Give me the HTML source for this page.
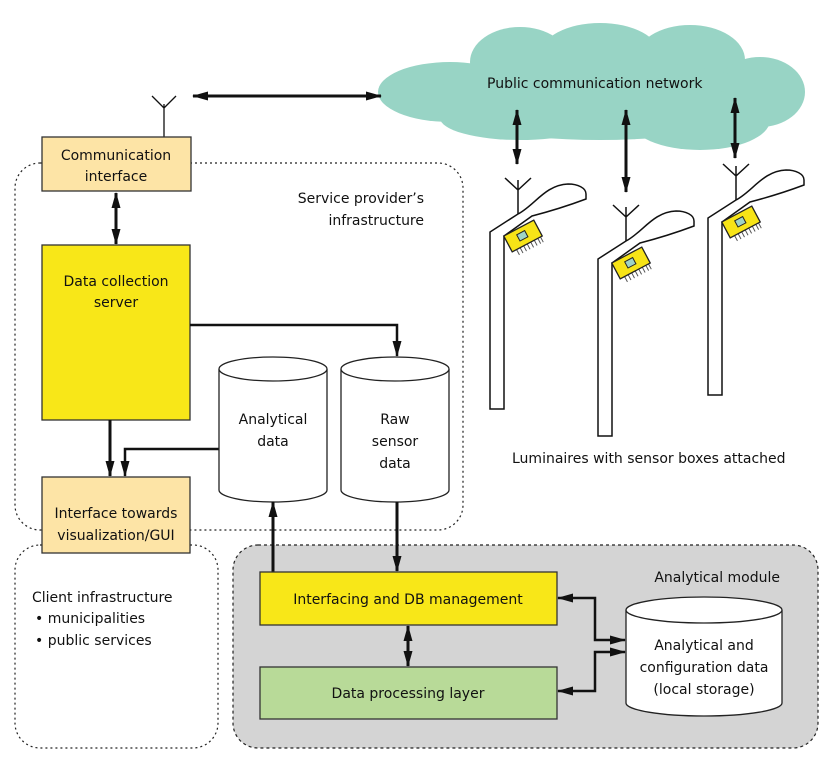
<!DOCTYPE html>
<html><head><style>
body{margin:0;background:#fff}
svg{display:block}
text{font-family:"DejaVu Sans","Liberation Sans",sans-serif;font-size:14px;fill:#111}
</style></head><body>
<svg width="830" height="763" viewBox="0 0 830 763" xmlns="http://www.w3.org/2000/svg">
<defs>
<marker id="b" viewBox="0 0 16 10" refX="15" refY="5" markerWidth="16" markerHeight="10" orient="auto-start-reverse" markerUnits="userSpaceOnUse"><path d="M0,0.5 L16,5 L0,9.5 Z" fill="#111"/></marker>
<g id="lum">
<path d="M490,409 V232 L518,214 C535,205 545,185 568,184 C578,184 586,188 586,194 V199 C570,205 555,210 532,216 L504,236 V409 Z" fill="#fff" stroke="#111" stroke-width="1.5"/>
<path d="M518,214 V180 M518,190 L505,178 M518,190 L531,178" stroke="#111" stroke-width="1.5" fill="none"/>
<g transform="translate(523,236) rotate(-28)">
<path d="M-12,9 v6 M-8,9 v6 M-4,9 v6 M0,9 v6 M4,9 v6 M8,9 v6 M12,9 v6 M15,9 v6" stroke="#555" stroke-width="1"/>
<rect x="-17" y="-9" width="34" height="18" fill="#f7e417" stroke="#222" stroke-width="1.3"/>
<rect x="-5" y="-4" width="9" height="7" fill="#9fd4c6" stroke="#222" stroke-width="1"/>
</g>
</g>
</defs>

<!-- cloud -->
<g fill="#98d4c5">
<ellipse cx="450" cy="92" rx="72" ry="30"/>
<ellipse cx="520" cy="62" rx="50" ry="35"/>
<ellipse cx="600" cy="55" rx="60" ry="32"/>
<ellipse cx="690" cy="60" rx="55" ry="35"/>
<ellipse cx="760" cy="92" rx="45" ry="35"/>
<ellipse cx="600" cy="100" rx="170" ry="40"/>
<ellipse cx="700" cy="120" rx="70" ry="30"/>
<ellipse cx="520" cy="118" rx="80" ry="22"/>
</g>
<text x="487" y="88">Public communication network</text>

<!-- dotted regions -->
<rect x="15" y="163" width="448" height="367" rx="25" fill="none" stroke="#222" stroke-width="1.2" stroke-dasharray="2,3"/>
<rect x="15" y="545" width="203" height="203" rx="25" fill="#fff" stroke="#222" stroke-width="1.2" stroke-dasharray="2,3"/>
<rect x="233" y="545" width="585" height="203" rx="25" fill="#d4d4d4" stroke="#222" stroke-width="1.2" stroke-dasharray="3,3"/>

<!-- antenna + comm -->
<path d="M164,137 V104 M164,108 L152,96 M164,108 L176,96" stroke="#111" stroke-width="1.3" fill="none"/>
<line x1="193" y1="96" x2="381" y2="96" stroke="#111" stroke-width="3" marker-start="url(#b)" marker-end="url(#b)"/>
<rect x="42" y="137" width="149" height="54" fill="#fde4a6" stroke="#333" stroke-width="1.3"/>
<text x="116" y="160" text-anchor="middle">Communication</text>
<text x="116" y="181" text-anchor="middle">interface</text>
<text x="424" y="203" text-anchor="end">Service provider’s</text>
<text x="424" y="225" text-anchor="end">infrastructure</text>

<line x1="116" y1="193" x2="116" y2="244" stroke="#111" stroke-width="3" marker-start="url(#b)" marker-end="url(#b)"/>

<rect x="42" y="245" width="148" height="175" fill="#f8e718" stroke="#333" stroke-width="1.3"/>
<text x="116" y="286" text-anchor="middle">Data collection</text>
<text x="116" y="307" text-anchor="middle">server</text>

<path d="M190,325 H397 V356" stroke="#111" stroke-width="2.5" fill="none" marker-end="url(#b)"/>
<line x1="110" y1="420" x2="110" y2="476" stroke="#111" stroke-width="3" marker-end="url(#b)"/>
<path d="M219,449 H125 V476" stroke="#111" stroke-width="2.5" fill="none" marker-end="url(#b)"/>

<!-- cylinders -->
<g stroke="#222" stroke-width="1.3" fill="#fff">
<path d="M219,369 V490 A54,12 0 0 0 327,490 V369"/>
<ellipse cx="273" cy="369" rx="54" ry="12"/>
<path d="M341,369 V490 A54,12 0 0 0 449,490 V369"/>
<ellipse cx="395" cy="369" rx="54" ry="12"/>
<path d="M626,610 V703 A78,13 0 0 0 782,703 V610"/>
<ellipse cx="704" cy="610" rx="78" ry="13"/>
</g>
<text x="273" y="424" text-anchor="middle">Analytical</text>
<text x="273" y="446" text-anchor="middle">data</text>
<text x="395" y="424" text-anchor="middle">Raw</text>
<text x="395" y="446" text-anchor="middle">sensor</text>
<text x="395" y="468" text-anchor="middle">data</text>

<rect x="42" y="477" width="148" height="76" fill="#fde4a6" stroke="#333" stroke-width="1.3"/>
<text x="116" y="518" text-anchor="middle">Interface towards</text>
<text x="116" y="540" text-anchor="middle">visualization/GUI</text>

<text x="32" y="602">Client infrastructure</text>
<text x="35" y="623">• municipalities</text>
<text x="35" y="645">• public services</text>
<text x="780" y="582" text-anchor="end">Analytical module</text>

<line x1="273" y1="572" x2="273" y2="502" stroke="#111" stroke-width="3" marker-end="url(#b)"/>
<line x1="397" y1="502" x2="397" y2="571" stroke="#111" stroke-width="3" marker-end="url(#b)"/>

<rect x="260" y="572" width="297" height="53" fill="#f8e718" stroke="#333" stroke-width="1.3"/>
<text x="408" y="604" text-anchor="middle">Interfacing and DB management</text>
<line x1="408" y1="626" x2="408" y2="666" stroke="#111" stroke-width="3" marker-start="url(#b)" marker-end="url(#b)"/>
<rect x="260" y="667" width="297" height="52" fill="#b8da98" stroke="#333" stroke-width="1.3"/>
<text x="408" y="698" text-anchor="middle">Data processing layer</text>

<path d="M558,598 H595 V640 H625" stroke="#111" stroke-width="2.5" fill="none" marker-start="url(#b)" marker-end="url(#b)"/>
<path d="M558,691 H595 V652 H625" stroke="#111" stroke-width="2.5" fill="none" marker-start="url(#b)" marker-end="url(#b)"/>
<text x="704" y="650" text-anchor="middle">Analytical and</text>
<text x="704" y="672" text-anchor="middle">configuration data</text>
<text x="704" y="694" text-anchor="middle">(local storage)</text>

<!-- luminaires -->
<use href="#lum"/>
<use href="#lum" transform="translate(108,27)"/>
<use href="#lum" transform="translate(218,-14)"/>
<line x1="517" y1="110" x2="517" y2="164" stroke="#111" stroke-width="3" marker-start="url(#b)" marker-end="url(#b)"/>
<line x1="626" y1="110" x2="626" y2="192" stroke="#111" stroke-width="3" marker-start="url(#b)" marker-end="url(#b)"/>
<line x1="735" y1="98" x2="735" y2="158" stroke="#111" stroke-width="3" marker-start="url(#b)" marker-end="url(#b)"/>
<text x="512" y="463">Luminaires with sensor boxes attached</text>
</svg>
</body></html>
